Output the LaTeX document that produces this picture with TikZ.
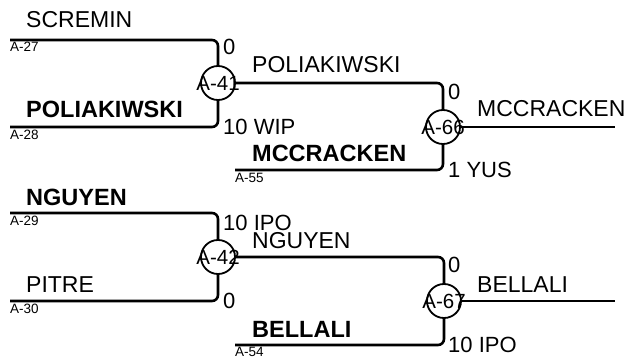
\documentclass[tikz,border=0pt]{standalone}
\usepackage{fontspec}
\setmainfont{Liberation Sans}
\begin{document}
\begin{tikzpicture}[x=1pt,y=-1pt,
  br/.style={line width=2.6pt,rounded corners=6pt},
  fin/.style={line width=2.2pt},
  mc/.style={circle,draw,line width=1.8pt,minimum size=34pt,inner sep=0pt},
  mtxt/.style={inner sep=0pt,font=\fontsize{20.5}{24}\selectfont},
  nm/.style={anchor=base west,inner sep=0pt,font=\fontsize{23}{26}\selectfont},
  bnm/.style={anchor=base west,inner sep=0pt,font=\fontsize{23.5}{26}\selectfont\bfseries},
  sc/.style={anchor=base west,inner sep=0pt,font=\fontsize{22}{24}\selectfont},
  sl/.style={anchor=base west,inner sep=0pt,font=\fontsize{13.5}{16}\selectfont}]
\useasboundingbox (0,0) rectangle (631,358);
% match nodes
\node[mc] (m41) at (218,83) {};
\node[mc] (m66) at (443,127) {};
\node[mc] (m42) at (218,257) {};
\node[mc] (m67) at (444,301) {};
% line starts
\coordinate (a27) at (10,40);
\coordinate (a28) at (10,127);
\coordinate (a55) at (235,170);
\coordinate (a29) at (10,213);
\coordinate (a30) at (10,301);
\coordinate (a54) at (235,345);
\coordinate (e66) at (615,127);
\coordinate (e67) at (615,301);
% connectors
\draw[br] (a27) -| (m41);
\draw[br] (a28) -| (m41);
\draw[br] (m41) -| (m66);
\draw[br] (a55) -| (m66);
\draw[fin] (m66) -- (e66);
\draw[br] (a29) -| (m42);
\draw[br] (a30) -| (m42);
\draw[br] (m42) -| (m67);
\draw[br] (a54) -| (m67);
\draw[fin] (m67) -- (e67);
% match labels
\node[mtxt] (t41) at (m41) {A-41};
\node[mtxt] (t66) at (m66) {A-66};
\node[mtxt] (t42) at (m42) {A-42};
\node[mtxt] (t67) at (m67) {A-67};
% names
\node[nm] (n1) at (26,28) {SCREMIN};
\node[bnm] (n2) at (26,118) {POLIAKIWSKI};
\node[nm] (n3) at (252,73) {POLIAKIWSKI};
\node[bnm] (n4) at (252,162) {MCCRACKEN};
\node[nm] (n5) at (477,117) {MCCRACKEN};
\node[bnm] (n6) at (26,205) {NGUYEN};
\node[nm] (n7) at (26,292) {PITRE};
\node[nm] (n8) at (252,248) {NGUYEN};
\node[bnm] (n9) at (252,337) {BELLALI};
\node[nm] (n10) at (477,292) {BELLALI};
% scores
\node[sc] (s1) at (223,55) {0};
\node[sc] (s2) at (223,135) {10 WIP};
\node[sc] (s3) at (448,100) {0};
\node[sc] (s4) at (448,178) {1 YUS};
\node[sc] (s5) at (223,230) {10 IPO};
\node[sc] (s6) at (223,308) {0};
\node[sc] (s7) at (448,272) {0};
\node[sc] (s8) at (448,352) {10 IPO};
% small labels
\node[sl] (l27) at (10,52) {A-27};
\node[sl] (l28) at (10,139.5) {A-28};
\node[sl] (l55) at (235,182.5) {A-55};
\node[sl] (l29) at (10,225.5) {A-29};
\node[sl] (l30) at (10,313.5) {A-30};
\node[sl] (l54) at (235,356) {A-54};
\end{tikzpicture}
\end{document}
